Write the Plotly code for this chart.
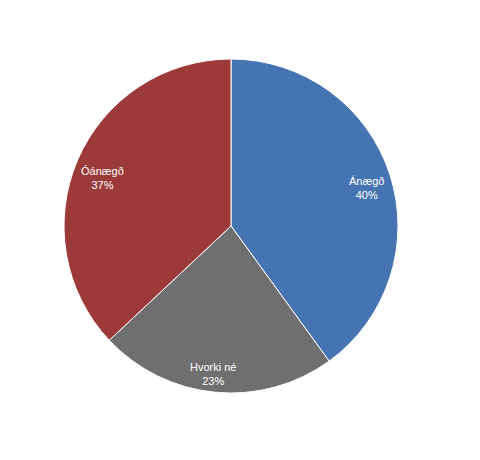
import math
import plotly.graph_objects as go

labels = ["Ánægð", "Hvorki né", "Óánægð"]
values = [40, 23, 37]
colors = ["#4674B2", "#6F6F6F", "#9B3A38"]
label_radius = [0.84, 0.894, 0.824]   # fraction of pie radius where each label sits
label_angle_shift = [2.3, 1.5, -3.0]  # degrees nudged from slice mid-angle

W, H = 480, 460
# pie geometry in figure pixels (page has an 8px body margin)
cx, cy, R = 223, 218, 167

fig = go.Figure(go.Pie(
    labels=labels,
    values=values,
    sort=False,
    direction="clockwise",
    rotation=0,
    marker=dict(colors=colors, line=dict(color="white", width=1)),
    textinfo="none",
    hoverinfo="label+percent",
    domain=dict(x=[(cx - R) / W, (cx + R) / W], y=[(H - cy - R) / H, (H - cy + R) / H]),
    showlegend=False,
))

total = sum(values)
cum = 0
for lab, v, rf, da in zip(labels, values, label_radius, label_angle_shift):
    mid = (cum + v / 2) / total * 2 * math.pi + math.radians(da)
    cum += v
    px = cx + rf * R * math.sin(mid)
    py = cy - rf * R * math.cos(mid)
    fig.add_annotation(
        x=px / W, y=(H - py) / H, xref="paper", yref="paper",
        xanchor="center", yanchor="middle",
        text=f"{lab}<br>{round(v / total * 100)}%",
        showarrow=False,
        font=dict(family="Liberation Sans, Arial, sans-serif", size=11, color="white"),
        align="center",
    )

fig.update_layout(
    width=W, height=H,
    margin=dict(l=0, r=0, t=0, b=0),
    paper_bgcolor="white",
    plot_bgcolor="white",
)
fig.write_html("out.html")
